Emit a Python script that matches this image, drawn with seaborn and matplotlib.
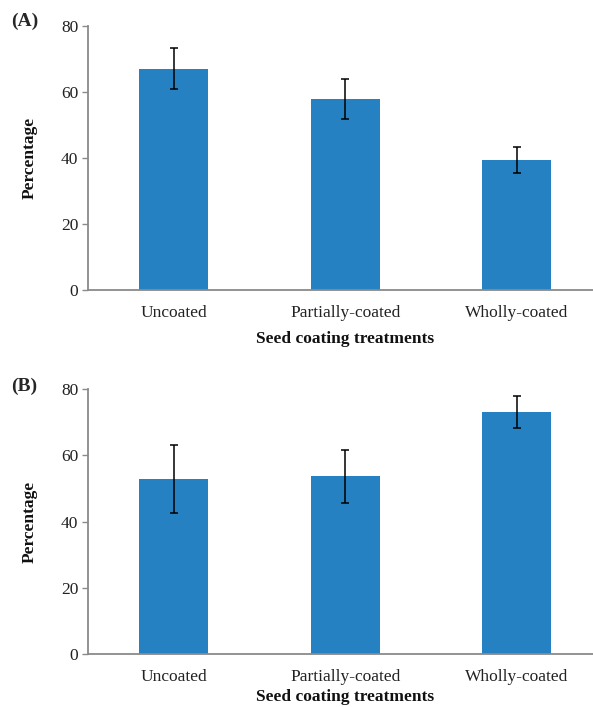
import matplotlib
matplotlib.use("Agg")
import matplotlib.pyplot as plt
import seaborn as sns
import pandas as pd

categories = ["Uncoated", "Partially-coated", "Wholly-coated"]
values_a = [67.0, 57.9, 39.4]
errors_a = [6.2, 6.0, 3.8]
values_b = [52.8, 53.7, 73.1]
errors_b = [10.2, 8.0, 4.9]
yticks = [0, 20, 40, 60, 80]

sns.set_theme(style="white")
plt.rcParams["font.family"] = ["Liberation Serif", "DejaVu Serif"]

fig = plt.figure(figsize=(5.93, 7.07), dpi=100)
W, H = 593, 707
left = 88 / W
width = 514.5 / W
axA = fig.add_axes([left, 1 - 290 / H, width, 264 / H])
axB = fig.add_axes([left, 1 - 653.7 / H, width, 264.4 / H])

bar_color = "#2581C1"
spine_color = "#8a8a8a"

for ax, vals, errs, xpad in [(axA, values_a, errors_a, 7), (axB, values_b, errors_b, 3)]:
    df = pd.DataFrame({"cat": categories, "val": vals})
    sns.barplot(data=df, x="cat", y="val", color=bar_color, saturation=1,
                width=0.4, errorbar=None, ax=ax, edgecolor="none")
    ax.errorbar(x=range(len(categories)), y=vals, yerr=errs, fmt="none",
                ecolor="black", elinewidth=1.1, capsize=3.2, capthick=1.1)
    ax.set_xlim(-0.5, 2.5)
    ax.set_ylim(0, 80)
    ax.set_yticks(yticks)
    ax.set_yticklabels([str(t) for t in yticks], fontsize=12.5, color="#222222")
    ax.set_xticks(range(len(categories)))
    ax.set_xticklabels(categories, fontsize=12.5, color="#222222")
    ax.set_xticks([0.5, 1.5], minor=True)
    ax.tick_params(axis="x", which="major", length=0, pad=11)
    ax.tick_params(axis="x", which="minor", length=4, width=1, color=spine_color, direction="out")
    ax.tick_params(axis="y", which="major", length=4, width=1, color=spine_color, direction="out", pad=3, left=True)
    for s in ["top", "right"]:
        ax.spines[s].set_visible(False)
    for s in ["left", "bottom"]:
        ax.spines[s].set_color(spine_color)
        ax.spines[s].set_linewidth(1.3)
    ax.set_ylabel("Percentage", fontsize=12.5, fontweight="bold", labelpad=17, color="#111111")
    ax.set_xlabel("Seed coating treatments", fontsize=12.5, fontweight="bold", labelpad=xpad, color="#111111")
    ax.grid(False)

fig.text(11 / W, 1 - 21 / H, "(A)", fontsize=14, fontweight="bold", va="center", ha="left")
fig.text(11 / W, 1 - 386 / H, "(B)", fontsize=14, fontweight="bold", va="center", ha="left")

fig.savefig("out.png", dpi=100)
